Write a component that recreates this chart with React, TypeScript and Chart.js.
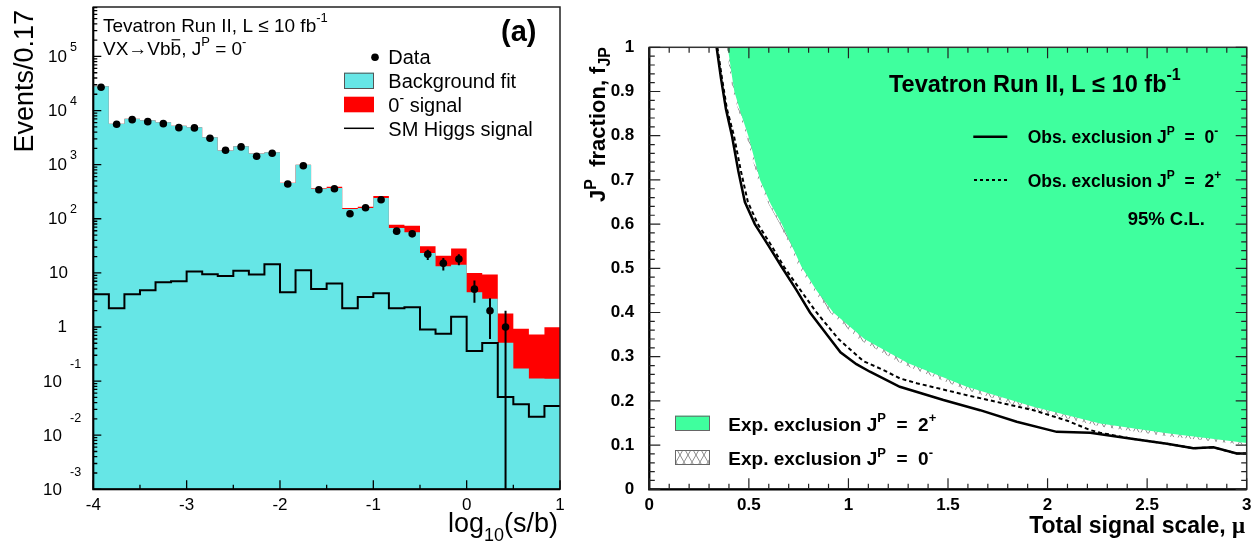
import React, { useEffect, useRef } from 'react';
import { Chart, registerables } from 'chart.js';

Chart.register(...registerables);

const FONT = '"Liberation Sans", Arial, Helvetica, sans-serif';
const SERIF = '"Liberation Serif", "DejaVu Serif", serif';
const CYAN = '#66e6e6';
const RED = '#ff0000';
const GREEN = '#3fff9e';

// ---------- panel (a): log10(s/b) distribution, 30 bins ----------
const binEdges = [
  -4, -3.8333, -3.6667, -3.5, -3.3333, -3.1667, -3, -2.8333, -2.6667, -2.5, -2.3333,
  -2.1667, -2, -1.8333, -1.6667, -1.5, -1.3333, -1.1667, -1, -0.8333, -0.6667, -0.5,
  -0.3333, -0.1667, 0, 0.1667, 0.3333, 0.5, 0.6667, 0.8333, 1,
];
const backgroundFit = [
  28000, 5730, 7080, 6610, 6070, 5260, 4900, 3210, 1820, 2190, 1600, 1690, 457, 995, 359,
  369, 151, 158, 242, 67.6, 56.2, 23.4, 13.2, 14.2, 4.39, 3.31, 0.51, 0.171, 0.112, 0.111,
];
const signal0m = [
  4, 2, 3, 4, 5, 5, 6, 5, 4, 5, 5, 6, 8, 6, 8, 20, 7, 9, 21, 10.2, 17.9, 7.5, 7.5, 13.9,
  5.6, 6.0, 1.26, 0.754, 0.616, 0.882,
];
const dataCounts = [
  26900, 5570, 6790, 6240, 5730, 4830, 4780, 3080, 1850, 2130, 1430, 1630, 439, 955, 344,
  359, 124, 160, 225, 59, 53, 22, 15, 18, 5, 2, 1, 0, 0, 0,
];
const dataErrors = [
  164, 75, 82, 79, 76, 70, 69, 55, 43, 46, 38, 40, 21, 31, 19, 19, 11, 13, 15, 7.7, 7.3,
  4.7, 3.9, 4.2, 2.2, 1.4, 1.0, 0, 0, 0,
];
const smHiggs = [
  4.03, 2.22, 4.03, 4.78, 6.71, 7.0, 10.6, 9.44, 8.79, 11.0, 9.31, 14.4, 4.39, 11.2, 5.06,
  6.34, 2.22, 3.6, 4.2, 2.22, 2.32, 0.9, 0.748, 1.54, 0.358, 0.504, 0.0507, 0.0372, 0.022,
  0.0347,
];
const xTicksLeft = [-4, -3, -2, -1, 0, 1];
const logDecades = [-3, -2, -1, 0, 1, 2, 3, 4, 5];

// ---------- panel (b): J^P fraction vs total signal scale ----------
const exp2pMu = [0.394, 0.41, 0.427, 0.46, 0.497, 0.556, 0.61, 0.665, 0.765, 0.84, 0.924, 1.08, 1.3, 1.594, 1.929, 2.264, 2.6, 3.0];
const exp2pF = [1.0, 0.95, 0.9, 0.85, 0.8, 0.7, 0.645, 0.6, 0.503, 0.45, 0.4, 0.34, 0.285, 0.232, 0.187, 0.149, 0.127, 0.105];
const exp0mMu = [0.388, 0.403, 0.42, 0.452, 0.488, 0.546, 0.6, 0.655, 0.752, 0.826, 0.908, 1.06, 1.28, 1.594, 1.929, 2.264, 2.6, 3.0];
const exp0mF = [1.0, 0.95, 0.9, 0.85, 0.8, 0.7, 0.645, 0.6, 0.503, 0.45, 0.4, 0.337, 0.281, 0.224, 0.179, 0.142, 0.12, 0.1];
const obs0mMu = [0.338, 0.36, 0.385, 0.415, 0.447, 0.48, 0.53, 0.565, 0.6, 0.665, 0.74, 0.807, 0.9, 0.96, 1.04, 1.108, 1.258, 1.477, 1.661, 1.845, 2.046, 2.214, 2.431, 2.6, 2.732, 2.833, 2.95, 3.0];
const obs0mF = [1.0, 0.93, 0.86, 0.8, 0.72, 0.65, 0.6, 0.575, 0.55, 0.503, 0.45, 0.4, 0.345, 0.31, 0.283, 0.266, 0.232, 0.202, 0.179, 0.153, 0.13, 0.128, 0.114, 0.103, 0.093, 0.095, 0.081, 0.081];
const obs2pMu = [0.342, 0.365, 0.39, 0.425, 0.46, 0.495, 0.545, 0.615, 0.677, 0.76, 0.84, 0.95, 1.075, 1.175, 1.258, 1.343, 1.594, 1.929, 2.1, 2.214, 2.264, 2.431, 2.6, 2.732, 2.833, 2.95, 3.0];
const obs2pF = [1.0, 0.93, 0.86, 0.8, 0.72, 0.65, 0.6, 0.55, 0.503, 0.45, 0.4, 0.34, 0.29, 0.27, 0.251, 0.24, 0.213, 0.179, 0.155, 0.134, 0.128, 0.114, 0.103, 0.093, 0.095, 0.081, 0.081];

type Seg = { t: string; mode?: 'sup' | 'sub'; bar?: boolean; family?: string };
type RichOpts = { bold?: boolean; align?: 'left' | 'right'; scale?: number; rise?: number; drop?: number };

// draws text made of runs with superscripts / subscripts / overlines
function rich(ctx: CanvasRenderingContext2D, segs: Seg[], x: number, y: number, size: number, o: RichOpts = {}) {
  const w = o.bold ? 'bold ' : '';
  const small = Math.round(size * (o.scale ?? 0.68));
  const fontOf = (s: Seg) => `${w}${s.mode ? small : size}px ${s.family ?? FONT}`;
  let total = 0;
  for (const s of segs) {
    ctx.font = fontOf(s);
    total += ctx.measureText(s.t).width;
  }
  let cx = o.align === 'right' ? x - total : x;
  ctx.textAlign = 'left';
  ctx.textBaseline = 'alphabetic';
  for (const s of segs) {
    ctx.font = fontOf(s);
    const dy = s.mode === 'sup' ? -(o.rise ?? size * 0.45) : s.mode === 'sub' ? (o.drop ?? size * 0.3) : 0;
    ctx.fillText(s.t, cx, y + dy);
    const wd = ctx.measureText(s.t).width;
    if (s.bar) {
      ctx.save();
      ctx.lineWidth = 1.2;
      ctx.beginPath();
      ctx.moveTo(cx + 1, y - size * 0.8);
      ctx.lineTo(cx + wd - 1, y - size * 0.8);
      ctx.stroke();
      ctx.restore();
    }
    cx += wd;
  }
}

const stepPoints = (vals: number[]) => {
  const pts = vals.map((v, i) => ({ x: binEdges[i], y: v }));
  pts.push({ x: binEdges[binEdges.length - 1], y: vals[vals.length - 1] });
  return pts;
};

const fixBox = (w?: number, h?: number) => (scale: any) => {
  if (w !== undefined) scale.width = w;
  if (h !== undefined) scale.height = h;
  scale.paddingLeft = 0;
  scale.paddingRight = 0;
  scale.paddingTop = 0;
  scale.paddingBottom = 0;
};

const plainNumber = (v: number | string) => String(parseFloat(Number(v).toFixed(3)));

const leftDecor = {
  id: 'leftDecor',
  afterDatasetDraw(chart: any, args: any) {
    if (args.index !== 1) return;
    const ctx = chart.ctx as CanvasRenderingContext2D;
    const xs = chart.scales.x;
    const ys = chart.scales.y;
    const ca = chart.chartArea;
    ctx.save();
    ctx.beginPath();
    ctx.rect(ca.left, ca.top, ca.right - ca.left, ca.bottom - ca.top);
    ctx.clip();
    ctx.strokeStyle = '#000';
    ctx.lineWidth = 2;
    dataCounts.forEach((n, i) => {
      if (n <= 0 || dataErrors[i] <= 0) return;
      const cx = xs.getPixelForValue((binEdges[i] + binEdges[i + 1]) / 2);
      const hi = ys.getPixelForValue(n + dataErrors[i]);
      const lo = n - dataErrors[i] > 0 ? ys.getPixelForValue(n - dataErrors[i]) : ca.bottom;
      ctx.beginPath();
      ctx.moveTo(cx, hi);
      ctx.lineTo(cx, lo);
      ctx.stroke();
    });
    ctx.restore();
  },
  afterDraw(chart: any) {
    const ctx = chart.ctx as CanvasRenderingContext2D;
    const { left, right, top, bottom } = chart.chartArea;
    const xs = chart.scales.x;
    const ys = chart.scales.y;
    ctx.save();
    ctx.fillStyle = '#000';
    ctx.strokeStyle = '#000';

    // frame
    ctx.lineWidth = 1.5;
    ctx.strokeStyle = '#222';
    ctx.strokeRect(left, top, right - left, bottom - top);
    ctx.strokeStyle = '#000';
    ctx.lineWidth = 2;
    ctx.beginPath();
    ctx.moveTo(left, top);
    ctx.lineTo(left, bottom);
    ctx.lineTo(right, bottom);
    ctx.stroke();

    // inner ticks
    ctx.lineWidth = 1.3;
    ctx.beginPath();
    xTicksLeft.forEach((v, i) => {
      const px = xs.getPixelForValue(v);
      ctx.moveTo(px, bottom);
      ctx.lineTo(px, bottom - 9);
      if (i < xTicksLeft.length - 1) {
        const mx = xs.getPixelForValue((v + xTicksLeft[i + 1]) / 2);
        ctx.moveTo(mx, bottom);
        ctx.lineTo(mx, bottom - 4.5);
      }
    });
    logDecades.forEach((k) => {
      for (let m = 1; m <= 9; m++) {
        const v = m * Math.pow(10, k);
        if (v > ys.max) break;
        const py = ys.getPixelForValue(v);
        ctx.moveTo(left, py);
        ctx.lineTo(left + (m === 1 ? 8 : 4), py);
      }
    });
    ctx.stroke();

    // log-axis labels
    logDecades.forEach((k) => {
      const py = ys.getPixelForValue(Math.pow(10, k));
      ctx.textBaseline = 'middle';
      ctx.textAlign = 'right';
      ctx.font = `17px ${FONT}`;
      if (k === 0) {
        ctx.fillText('1', 67, py);
      } else if (k === 1) {
        ctx.fillText('10', 68, py);
      } else {
        ctx.fillText('10', k > 0 ? 67 : 62, py + 1);
        ctx.textAlign = 'left';
        ctx.font = `12.5px ${FONT}`;
        ctx.fillText(String(k), 70, py - (k > 0 ? 9 : 17));
      }
    });

    // axis titles
    ctx.save();
    ctx.translate(33, 10);
    ctx.rotate(-Math.PI / 2);
    ctx.font = `27px ${FONT}`;
    ctx.textAlign = 'right';
    ctx.textBaseline = 'alphabetic';
    ctx.fillText('Events/0.17', 0, 0);
    ctx.restore();
    rich(ctx, [{ t: 'log' }, { t: '10', mode: 'sub' }, { t: '(s/b)' }], 558, 531.5, 27, { align: 'right', drop: 9.5 });

    // header
    rich(ctx, [{ t: 'Tevatron Run II, L \u2264 10 fb' }, { t: '-1', mode: 'sup' }], 103, 31.7, 19, { rise: 9.5 });
    rich(
      ctx,
      [{ t: 'VX\u2192Vb' }, { t: 'b', bar: true }, { t: ', J' }, { t: 'P', mode: 'sup' }, { t: ' = 0' }, { t: '-', mode: 'sup' }],
      103,
      55,
      19,
      { rise: 9.5 },
    );
    ctx.font = `bold 29px ${FONT}`;
    ctx.textAlign = 'left';
    ctx.textBaseline = 'alphabetic';
    ctx.fillText('(a)', 501, 40.7);

    // legend
    ctx.beginPath();
    ctx.arc(375, 57.3, 3.8, 0, Math.PI * 2);
    ctx.fill();
    rich(ctx, [{ t: 'Data' }], 388.3, 64, 20);
    ctx.fillStyle = CYAN;
    ctx.fillRect(344, 72.7, 30, 16.3);
    ctx.strokeStyle = '#555';
    ctx.lineWidth = 1;
    ctx.strokeRect(344.5, 73.2, 29, 15.3);
    ctx.fillStyle = '#000';
    rich(ctx, [{ t: 'Background fit' }], 388.3, 88.3, 20);
    ctx.fillStyle = RED;
    ctx.fillRect(344, 96.7, 30, 15.6);
    ctx.fillStyle = '#000';
    rich(ctx, [{ t: '0' }, { t: '-', mode: 'sup' }, { t: ' signal' }], 388.3, 111.7, 20, { rise: 9 });
    ctx.strokeStyle = '#000';
    ctx.lineWidth = 1.5;
    ctx.beginPath();
    ctx.moveTo(344, 128.3);
    ctx.lineTo(374, 128.3);
    ctx.stroke();
    rich(ctx, [{ t: 'SM Higgs signal' }], 388.3, 136, 20);
    ctx.restore();
  },
};

const rightDecor = {
  id: 'rightDecor',
  afterDraw(chart: any) {
    const ctx = chart.ctx as CanvasRenderingContext2D;
    const { left, right, top, bottom } = chart.chartArea;
    const xs = chart.scales.x;
    const ys = chart.scales.y;
    ctx.save();
    ctx.fillStyle = '#000';

    // frame
    ctx.lineWidth = 1.5;
    ctx.strokeStyle = '#333';
    ctx.strokeRect(left, top, right - left, bottom - top);
    ctx.strokeStyle = '#000';
    ctx.lineWidth = 2.2;
    ctx.beginPath();
    ctx.moveTo(left, top);
    ctx.lineTo(left, bottom);
    ctx.lineTo(right, bottom);
    ctx.stroke();

    // inner ticks on all four sides
    ctx.lineWidth = 1.2;
    ctx.strokeStyle = '#222';
    ctx.beginPath();
    for (let i = 0; i <= 30; i++) {
      const px = xs.getPixelForValue(i / 10);
      const len = i % 5 === 0 ? 11 : 5.5;
      ctx.moveTo(px, bottom);
      ctx.lineTo(px, bottom - len);
      ctx.moveTo(px, top);
      ctx.lineTo(px, top + len);
    }
    for (let i = 0; i <= 50; i++) {
      const py = ys.getPixelForValue(i / 50);
      const len = i % 5 === 0 ? 11 : 5.5;
      ctx.moveTo(left, py);
      ctx.lineTo(left + len, py);
      ctx.moveTo(right, py);
      ctx.lineTo(right - len, py);
    }
    ctx.stroke();

    // axis titles
    ctx.save();
    ctx.translate(25, 47);
    ctx.rotate(-Math.PI / 2);
    rich(ctx, [{ t: 'J' }, { t: 'P', mode: 'sup' }, { t: '  fraction, f' }, { t: 'JP', mode: 'sub' }], 0, 0, 22, {
      bold: true,
      align: 'right',
      scale: 0.72,
      rise: 9.5,
      drop: 5,
    });
    ctx.restore();
    rich(ctx, [{ t: 'Total signal scale, ' }, { t: '\u03bc', family: SERIF }], 665, 533, 23, { bold: true, align: 'right' });

    // header and legend
    rich(ctx, [{ t: 'Tevatron Run II, L \u2264 10 fb' }, { t: '-1', mode: 'sup' }], 309, 91.5, 23.5, { bold: true, rise: 11.5 });
    ctx.strokeStyle = '#000';
    ctx.lineWidth = 2.5;
    ctx.beginPath();
    ctx.moveTo(393.3, 136.7);
    ctx.lineTo(427.3, 136.7);
    ctx.stroke();
    ctx.lineWidth = 2;
    ctx.setLineDash([3, 3]);
    ctx.beginPath();
    ctx.moveTo(394, 180);
    ctx.lineTo(427.3, 180);
    ctx.stroke();
    ctx.setLineDash([]);
    rich(ctx, [{ t: 'Obs. exclusion J' }, { t: 'P', mode: 'sup' }, { t: '  =  0' }, { t: '-', mode: 'sup' }], 447.7, 143.3, 17.5, {
      bold: true,
      rise: 8,
    });
    rich(ctx, [{ t: 'Obs. exclusion J' }, { t: 'P', mode: 'sup' }, { t: '  =  2' }, { t: '+', mode: 'sup' }], 447.7, 186.7, 17.5, {
      bold: true,
      rise: 8,
    });
    rich(ctx, [{ t: '95% C.L.' }], 547.7, 225, 18.5, { bold: true });

    ctx.fillStyle = GREEN;
    ctx.fillRect(95, 415.7, 35, 15.3);
    ctx.strokeStyle = '#666';
    ctx.lineWidth = 1;
    ctx.strokeRect(95.5, 416.2, 34, 14.3);
    const pat = chart.data.datasets[3].backgroundColor;
    ctx.fillStyle = pat;
    ctx.fillRect(95, 450, 35, 15);
    ctx.strokeRect(95.5, 450.5, 34, 14);
    ctx.fillStyle = '#000';
    rich(ctx, [{ t: 'Exp. exclusion J' }, { t: 'P', mode: 'sup' }, { t: '  =  2' }, { t: '+', mode: 'sup' }], 148.3, 430.7, 19, {
      bold: true,
      rise: 8.5,
    });
    rich(ctx, [{ t: 'Exp. exclusion J' }, { t: 'P', mode: 'sup' }, { t: '  =  0' }, { t: '-', mode: 'sup' }], 148.3, 465, 19, {
      bold: true,
      rise: 8.5,
    });
    ctx.restore();
  },
};

function makeHatch(): CanvasPattern | string {
  const c = document.createElement('canvas');
  c.width = 8;
  c.height = 14;
  const g = c.getContext('2d');
  if (!g) return '#999';
  g.strokeStyle = '#707070';
  g.lineWidth = 0.8;
  g.beginPath();
  g.moveTo(0, 0);
  g.lineTo(8, 14);
  g.moveTo(8, 0);
  g.lineTo(0, 14);
  g.stroke();
  return g.createPattern(c, 'repeat') ?? '#999';
}

const zip = (xs: number[], ys: number[]) => xs.map((x, i) => ({ x, y: ys[i] }));

function leftConfig(): any {
  const centers = dataCounts.map((_, i) => (binEdges[i] + binEdges[i + 1]) / 2);
  const dataPts = dataCounts.map((n, i) => ({ x: centers[i], y: n })).filter((p) => p.y > 0);
  const total = backgroundFit.map((b, i) => b + signal0m[i]);
  const tickFont = { family: FONT, size: 17 };
  return {
    type: 'line',
    data: {
      datasets: [
        { label: 'Data', data: dataPts, showLine: false, pointRadius: 3.8, pointBackgroundColor: '#000', pointBorderWidth: 0, borderWidth: 0 },
        { label: 'SM Higgs signal', data: stepPoints(smHiggs), stepped: 'before', borderColor: '#000', borderWidth: 2, pointRadius: 0, fill: false },
        { label: 'Background fit', data: stepPoints(backgroundFit), stepped: 'before', borderWidth: 0, pointRadius: 0, backgroundColor: CYAN, fill: 'start' },
        { label: '0- signal', data: stepPoints(total), stepped: 'before', borderWidth: 0, pointRadius: 0, backgroundColor: RED, fill: 'start' },
      ],
    },
    options: {
      animation: false,
      responsive: false,
      events: [],
      layout: { padding: { left: 0, right: 20, top: 7, bottom: 0 } },
      plugins: { legend: { display: false }, tooltip: { enabled: false } },
      scales: {
        x: {
          type: 'linear',
          min: -4,
          max: 1,
          afterBuildTicks: (s: any) => {
            s.ticks = xTicksLeft.map((v) => ({ value: v }));
          },
          ticks: { font: tickFont, color: '#000', padding: 6, maxRotation: 0, autoSkip: false, callback: plainNumber },
          grid: { display: false, drawTicks: false },
          border: { display: false },
          afterFit: fixBox(undefined, 52.7),
        },
        y: {
          type: 'logarithmic',
          min: 1e-3,
          max: 8.2e5,
          ticks: { display: false },
          grid: { display: false, drawTicks: false },
          border: { display: false },
          afterFit: fixBox(93.3, undefined),
        },
      },
    },
    plugins: [leftDecor],
  };
}

function rightConfig(): any {
  const tickFont = { family: FONT, size: 17, weight: 'bold' };
  return {
    type: 'line',
    data: {
      datasets: [
        { label: 'Obs. exclusion 0-', data: zip(obs0mMu, obs0mF), borderColor: '#000', borderWidth: 2.5, pointRadius: 0, fill: false },
        { label: 'Obs. exclusion 2+', data: zip(obs2pMu, obs2pF), borderColor: '#000', borderWidth: 2, borderDash: [4, 3], pointRadius: 0, fill: false },
        { label: 'Exp. exclusion 2+', data: zip(exp2pMu, exp2pF), borderWidth: 0, pointRadius: 0, backgroundColor: GREEN, fill: 'end' },
        { label: 'Exp. exclusion 0-', data: zip(exp0mMu, exp0mF), borderWidth: 0, pointRadius: 0, backgroundColor: makeHatch(), fill: 'end' },
      ],
    },
    options: {
      animation: false,
      responsive: false,
      events: [],
      layout: { padding: { left: 0, right: 11.3, top: 47.3, bottom: 0 } },
      plugins: { legend: { display: false }, tooltip: { enabled: false } },
      scales: {
        x: {
          type: 'linear',
          min: 0,
          max: 3,
          ticks: { stepSize: 0.5, font: tickFont, color: '#000', padding: 6, maxRotation: 0, autoSkip: false, callback: plainNumber },
          grid: { display: false, drawTicks: false },
          border: { display: false },
          afterFit: fixBox(undefined, 52.7),
        },
        y: {
          type: 'linear',
          min: 0,
          max: 1,
          ticks: { stepSize: 0.1, font: tickFont, color: '#000', padding: 15, autoSkip: false, callback: plainNumber },
          grid: { display: false, drawTicks: false },
          border: { display: false },
          afterFit: fixBox(69.3, undefined),
        },
      },
    },
    plugins: [rightDecor],
  };
}

export default function App() {
  const leftRef = useRef<HTMLCanvasElement>(null);
  const rightRef = useRef<HTMLCanvasElement>(null);
  useEffect(() => {
    const c1 = new Chart(leftRef.current as HTMLCanvasElement, leftConfig());
    const c2 = new Chart(rightRef.current as HTMLCanvasElement, rightConfig());
    return () => {
      c1.destroy();
      c2.destroy();
    };
  }, []);
  return (
    <div style={{ position: 'fixed', left: 0, top: 0, width: 1258, height: 542, background: '#fff' }}>
      <canvas ref={leftRef} width={580} height={542} style={{ position: 'absolute', left: 0, top: 0, width: 580, height: 542 }} />
      <canvas ref={rightRef} width={678} height={542} style={{ position: 'absolute', left: 580, top: 0, width: 678, height: 542 }} />
    </div>
  );
}
